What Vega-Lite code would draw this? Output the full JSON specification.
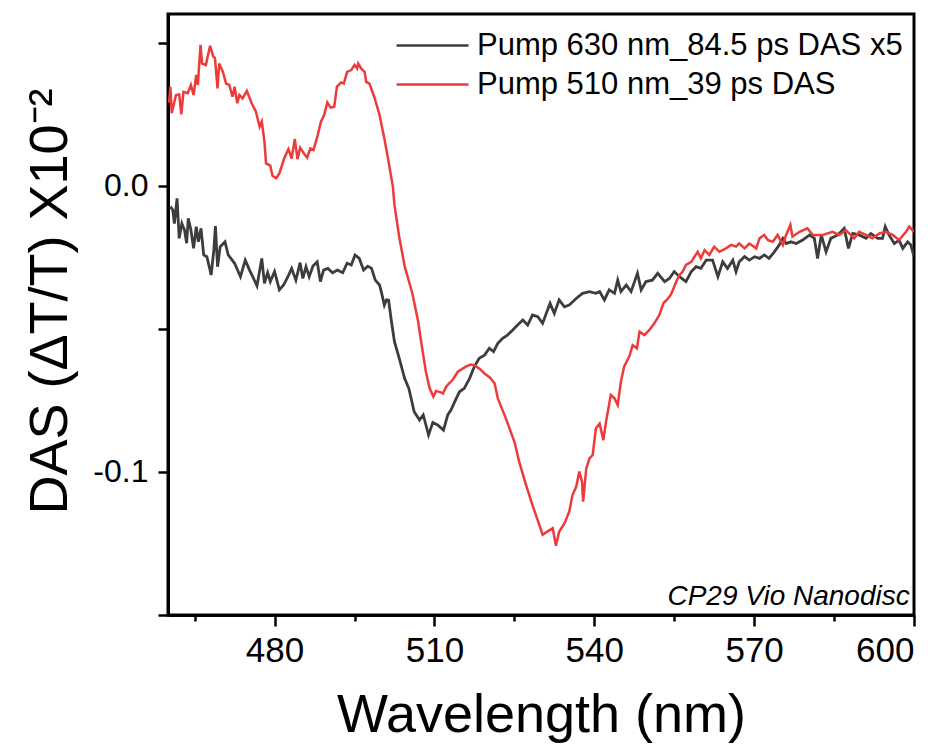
{
  "$schema": "https://vega.github.io/schema/vega-lite/v6.json",
  "width": 746,
  "height": 601,
  "autosize": {"type": "none"},
  "padding": {"left": 168, "top": 14, "right": 37, "bottom": 132},
  "background": "white",
  "config": {
    "view": {"stroke": "black", "strokeWidth": 3},
    "font": "Liberation Sans"
  },
  "datasets": {
    "black": [
{"w":460.45,"v":-0.0073},{"w":460.9,"v":-0.0085},{"w":461.2,"v":-0.0132},{"w":461.7,"v":-0.0044},{"w":462.1,"v":-0.0184},{"w":462.6,"v":-0.0132},{"w":463.1,"v":-0.0155},{"w":463.5,"v":-0.0201},{"w":463.8,"v":-0.0114},{"w":464.3,"v":-0.0155},{"w":464.8,"v":-0.0219},{"w":465.3,"v":-0.0143},{"w":465.7,"v":-0.0196},{"w":466.2,"v":-0.0149},{"w":466.7,"v":-0.0242},{"w":467.3,"v":-0.0248},{"w":468.1,"v":-0.0312},{"w":468.6,"v":-0.0225},{"w":468.9,"v":-0.0141},{"w":469.3,"v":-0.0283},{"w":469.8,"v":-0.0213},{"w":470.7,"v":-0.0196},{"w":471.3,"v":-0.0242},{"w":472.5,"v":-0.0271},{"w":473.6,"v":-0.0318},{"w":474.5,"v":-0.026},{"w":475.3,"v":-0.0295},{"w":475.9,"v":-0.0318},{"w":476.7,"v":-0.035},{"w":477.6,"v":-0.0254},{"w":478.1,"v":-0.0341},{"w":478.7,"v":-0.0304},{"w":479.2,"v":-0.0335},{"w":480.0,"v":-0.03},{"w":480.9,"v":-0.0364},{"w":481.7,"v":-0.0347},{"w":482.5,"v":-0.0318},{"w":483.2,"v":-0.0289},{"w":484.0,"v":-0.033},{"w":484.8,"v":-0.0269},{"w":485.3,"v":-0.0324},{"w":485.9,"v":-0.0283},{"w":486.5,"v":-0.0318},{"w":487.2,"v":-0.0281},{"w":488.0,"v":-0.0266},{"w":488.6,"v":-0.0335},{"w":489.2,"v":-0.0295},{"w":490.0,"v":-0.0289},{"w":490.9,"v":-0.0304},{"w":491.8,"v":-0.0295},{"w":492.8,"v":-0.0304},{"w":493.6,"v":-0.0271},{"w":494.4,"v":-0.0277},{"w":495.1,"v":-0.0242},{"w":495.9,"v":-0.0254},{"w":496.7,"v":-0.0295},{"w":497.5,"v":-0.0281},{"w":498.2,"v":-0.0289},{"w":498.9,"v":-0.033},{"w":499.7,"v":-0.0347},{"w":500.1,"v":-0.0376},{"w":500.6,"v":-0.0417},{"w":501.0,"v":-0.0399},{"w":501.4,"v":-0.040},{"w":501.9,"v":-0.047},{"w":502.5,"v":-0.0545},{"w":503.4,"v":-0.0603},{"w":504.4,"v":-0.0673},{"w":505.2,"v":-0.0708},{"w":506.2,"v":-0.079},{"w":507.2,"v":-0.0819},{"w":507.9,"v":-0.0801},{"w":508.9,"v":-0.0871},{"w":509.7,"v":-0.0827},{"w":510.6,"v":-0.0836},{"w":511.7,"v":-0.0854},{"w":512.5,"v":-0.0801},{"w":513.1,"v":-0.0784},{"w":514.1,"v":-0.0743},{"w":514.7,"v":-0.072},{"w":515.6,"v":-0.0708},{"w":516.6,"v":-0.0673},{"w":517.5,"v":-0.0632},{"w":518.4,"v":-0.0603},{"w":519.4,"v":-0.0592},{"w":520.3,"v":-0.0568},{"w":521.1,"v":-0.058},{"w":521.9,"v":-0.0551},{"w":522.8,"v":-0.0533},{"w":523.7,"v":-0.0522},{"w":524.7,"v":-0.0504},{"w":525.6,"v":-0.0487},{"w":526.6,"v":-0.0469},{"w":527.5,"v":-0.0487},{"w":528.4,"v":-0.0452},{"w":529.4,"v":-0.0458},{"w":530.3,"v":-0.0481},{"w":531.0,"v":-0.0446},{"w":531.7,"v":-0.0411},{"w":532.5,"v":-0.0446},{"w":533.4,"v":-0.0399},{"w":534.4,"v":-0.0423},{"w":535.3,"v":-0.0417},{"w":536.6,"v":-0.0394},{"w":537.8,"v":-0.0376},{"w":539.1,"v":-0.037},{"w":540.3,"v":-0.0376},{"w":541.0,"v":-0.037},{"w":541.9,"v":-0.0399},{"w":542.8,"v":-0.0364},{"w":543.8,"v":-0.0376},{"w":544.4,"v":-0.033},{"w":545.0,"v":-0.037},{"w":546.0,"v":-0.0347},{"w":546.9,"v":-0.037},{"w":548.1,"v":-0.0306},{"w":548.8,"v":-0.0364},{"w":549.7,"v":-0.0335},{"w":550.9,"v":-0.033},{"w":551.9,"v":-0.0306},{"w":553.2,"v":-0.0335},{"w":554.1,"v":-0.0324},{"w":555.0,"v":-0.03},{"w":556.0,"v":-0.0318},{"w":557.2,"v":-0.0335},{"w":558.2,"v":-0.03},{"w":559.1,"v":-0.0283},{"w":560.0,"v":-0.0289},{"w":561.0,"v":-0.026},{"w":562.2,"v":-0.026},{"w":563.2,"v":-0.0318},{"w":564.1,"v":-0.0266},{"w":565.0,"v":-0.0289},{"w":566.0,"v":-0.026},{"w":566.6,"v":-0.03},{"w":567.2,"v":-0.0266},{"w":568.2,"v":-0.0248},{"w":569.1,"v":-0.026},{"w":570.1,"v":-0.0248},{"w":571.0,"v":-0.0254},{"w":571.9,"v":-0.0242},{"w":572.8,"v":-0.0254},{"w":573.8,"v":-0.0231},{"w":574.7,"v":-0.0207},{"w":575.4,"v":-0.0184},{"w":576.0,"v":-0.0202},{"w":576.9,"v":-0.0196},{"w":577.9,"v":-0.0202},{"w":579.1,"v":-0.019},{"w":580.4,"v":-0.0172},{"w":581.3,"v":-0.0184},{"w":581.9,"v":-0.0254},{"w":582.6,"v":-0.0172},{"w":583.5,"v":-0.0231},{"w":584.4,"v":-0.0184},{"w":585.7,"v":-0.0172},{"w":586.9,"v":-0.0149},{"w":587.7,"v":-0.0219},{"w":588.5,"v":-0.0167},{"w":589.7,"v":-0.0172},{"w":591.0,"v":-0.0184},{"w":591.9,"v":-0.0167},{"w":593.2,"v":-0.0184},{"w":594.1,"v":-0.0184},{"w":594.6,"v":-0.0143},{"w":595.3,"v":-0.0172},{"w":596.3,"v":-0.0202},{"w":597.2,"v":-0.019},{"w":597.9,"v":-0.0219},{"w":598.8,"v":-0.0196},{"w":599.4,"v":-0.0207},{"w":600.0,"v":-0.0248}
    ],
    "red": [
{"w":460.2,"v":0.029},{"w":460.45,"v":0.0346},{"w":460.7,"v":0.0253},{"w":461.5,"v":0.0317},{"w":462.1,"v":0.0319},{"w":462.5,"v":0.0249},{"w":462.9,"v":0.0328},{"w":463.7,"v":0.0323},{"w":464.3,"v":0.0352},{"w":464.8,"v":0.0317},{"w":465.3,"v":0.0387},{"w":465.6,"v":0.0352},{"w":466.1,"v":0.0492},{"w":466.4,"v":0.0427},{"w":467.1,"v":0.0422},{"w":467.9,"v":0.0489},{"w":468.5,"v":0.0451},{"w":468.8,"v":0.0447},{"w":469.3,"v":0.034},{"w":469.6,"v":0.0427},{"w":470.3,"v":0.0398},{"w":470.9,"v":0.0357},{"w":471.5,"v":0.0352},{"w":472.1,"v":0.0311},{"w":472.5,"v":0.0346},{"w":473.0,"v":0.0288},{"w":473.4,"v":0.0317},{"w":474.0,"v":0.0305},{"w":474.8,"v":0.0331},{"w":475.7,"v":0.0288},{"w":476.5,"v":0.0259},{"w":477.2,"v":0.0206},{"w":477.6,"v":0.0224},{"w":478.1,"v":0.0154},{"w":478.4,"v":0.0078},{"w":479.2,"v":0.007},{"w":479.6,"v":0.0035},{"w":480.3,"v":0.0026},{"w":480.9,"v":0.0043},{"w":481.8,"v":0.0095},{"w":482.6,"v":0.0128},{"w":483.2,"v":0.0095},{"w":483.8,"v":0.0163},{"w":484.3,"v":0.0093},{"w":484.8,"v":0.0133},{"w":485.5,"v":0.0113},{"w":486.1,"v":0.0098},{"w":486.7,"v":0.013},{"w":487.3,"v":0.0125},{"w":488.1,"v":0.0177},{"w":488.7,"v":0.0224},{"w":489.3,"v":0.0247},{"w":489.9,"v":0.0291},{"w":490.5,"v":0.0273},{"w":491.2,"v":0.0276},{"w":491.7,"v":0.0346},{"w":492.5,"v":0.0361},{"w":493.0,"v":0.0357},{"w":493.6,"v":0.0398},{"w":494.4,"v":0.0404},{"w":495.0,"v":0.0422},{"w":495.5,"v":0.041},{"w":495.7,"v":0.0427},{"w":496.3,"v":0.0408},{"w":496.9,"v":0.0398},{"w":497.2,"v":0.0363},{"w":497.8,"v":0.0357},{"w":498.7,"v":0.0311},{"w":499.7,"v":0.0247},{"w":500.6,"v":0.0165},{"w":501.4,"v":0.0084},{"w":502.2,"v":-0.0003},{"w":502.5,"v":-0.0067},{"w":503.4,"v":-0.018},{"w":504.4,"v":-0.028},{"w":505.3,"v":-0.034},{"w":505.9,"v":-0.038},{"w":506.9,"v":-0.047},{"w":507.8,"v":-0.058},{"w":508.4,"v":-0.065},{"w":509.1,"v":-0.0708},{"w":509.8,"v":-0.0737},{"w":510.3,"v":-0.0717},{"w":511.2,"v":-0.0722},{"w":511.6,"v":-0.0726},{"w":512.2,"v":-0.0702},{"w":512.8,"v":-0.069},{"w":513.4,"v":-0.0679},{"w":514.4,"v":-0.065},{"w":515.9,"v":-0.0632},{"w":516.8,"v":-0.0625},{"w":517.5,"v":-0.0627},{"w":518.5,"v":-0.064},{"w":519.4,"v":-0.0656},{"w":520.4,"v":-0.067},{"w":521.3,"v":-0.0691},{"w":521.9,"v":-0.0743},{"w":523.4,"v":-0.0813},{"w":525.0,"v":-0.0894},{"w":525.9,"v":-0.0964},{"w":527.2,"v":-0.1046},{"w":528.4,"v":-0.1116},{"w":529.7,"v":-0.1186},{"w":530.3,"v":-0.122},{"w":531.3,"v":-0.1207},{"w":532.2,"v":-0.1197},{"w":532.8,"v":-0.1258},{"w":533.4,"v":-0.1209},{"w":534.4,"v":-0.118},{"w":535.3,"v":-0.1139},{"w":535.9,"v":-0.1081},{"w":536.6,"v":-0.1052},{"w":537.2,"v":-0.0999},{"w":537.7,"v":-0.1034},{"w":537.9,"v":-0.1104},{"w":538.5,"v":-0.0988},{"w":539.1,"v":-0.0953},{"w":539.7,"v":-0.0941},{"w":540.3,"v":-0.0848},{"w":541.0,"v":-0.0831},{"w":541.7,"v":-0.0889},{"w":542.2,"v":-0.0825},{"w":543.1,"v":-0.0731},{"w":543.8,"v":-0.0743},{"w":544.4,"v":-0.0766},{"w":545.0,"v":-0.0685},{"w":545.6,"v":-0.0632},{"w":546.6,"v":-0.0595},{"w":547.2,"v":-0.0557},{"w":548.0,"v":-0.0568},{"w":548.5,"v":-0.051},{"w":549.4,"v":-0.0522},{"w":550.3,"v":-0.0505},{"w":551.3,"v":-0.048},{"w":552.2,"v":-0.0452},{"w":553.0,"v":-0.041},{"w":553.8,"v":-0.0395},{"w":554.4,"v":-0.038},{"w":555.0,"v":-0.0353},{"w":555.5,"v":-0.033},{"w":556.0,"v":-0.0312},{"w":556.6,"v":-0.03},{"w":557.2,"v":-0.0277},{"w":558.2,"v":-0.0266},{"w":559.4,"v":-0.0231},{"w":560.0,"v":-0.0254},{"w":560.7,"v":-0.0225},{"w":561.6,"v":-0.0242},{"w":562.5,"v":-0.0213},{"w":563.5,"v":-0.0231},{"w":564.7,"v":-0.0219},{"w":565.7,"v":-0.0207},{"w":566.6,"v":-0.0213},{"w":567.2,"v":-0.0202},{"w":568.2,"v":-0.0219},{"w":569.1,"v":-0.0202},{"w":570.4,"v":-0.0219},{"w":571.0,"v":-0.0184},{"w":571.9,"v":-0.0172},{"w":572.6,"v":-0.019},{"w":573.5,"v":-0.0196},{"w":574.4,"v":-0.0172},{"w":575.4,"v":-0.0207},{"w":576.0,"v":-0.0172},{"w":576.8,"v":-0.0137},{"w":577.2,"v":-0.0178},{"w":578.5,"v":-0.0161},{"w":580.0,"v":-0.0149},{"w":581.0,"v":-0.0172},{"w":582.9,"v":-0.0172},{"w":584.7,"v":-0.0161},{"w":586.0,"v":-0.0172},{"w":587.2,"v":-0.0155},{"w":588.8,"v":-0.0184},{"w":589.7,"v":-0.0161},{"w":591.0,"v":-0.0172},{"w":592.2,"v":-0.0184},{"w":593.5,"v":-0.0167},{"w":594.7,"v":-0.0161},{"w":596.0,"v":-0.0172},{"w":597.2,"v":-0.019},{"w":598.5,"v":-0.0161},{"w":599.1,"v":-0.0143},{"w":600.0,"v":-0.0161}
    ],
    "note": [{"label": "CP29 Vio Nanodisc", "w": 599.2, "v": -0.1464}]
  },
  "layer": [
    {
      "data": {"name": "black"},
      "mark": {"type": "line", "strokeWidth": 2.8, "clip": true},
      "encoding": {
        "x": {
          "field": "w", "type": "quantitative",
          "scale": {"domain": [460, 600], "nice": false, "zero": false},
          "axis": {
            "values": [465, 480, 495, 510, 525, 540, 555, 570, 585, 600],
            "labelExpr": "datum.value % 30 == 0 ? datum.label : ''",
            "labelOverlap": false,
            "labelFontSize": 35,
            "labelColor": "black",
            "labelPadding": 7,
            "tickSize": {"condition": {"test": "datum.value % 30 != 0", "value": 6}, "value": 11},
            "tickWidth": 2.5,
            "tickColor": "black",
            "domainColor": "black",
            "domainWidth": 3,
            "grid": false,
            "title": "Wavelength (nm)",
            "titleFontSize": 54,
            "titleFontWeight": "normal",
            "titleColor": "black",
            "titleX": 373,
            "titleY": 116,
            "titleAlign": "center",
            "titleBaseline": "alphabetic"
          }
        },
        "y": {
          "field": "v", "type": "quantitative",
          "scale": {"domain": [-0.15, 0.06], "nice": false, "zero": false},
          "axis": {
            "values": [0.05, 0, -0.05, -0.1, -0.15],
            "labelExpr": "abs(datum.value) < 1e-9 ? '0.0' : (abs(datum.value + 0.1) < 1e-9 ? '-0.1' : '')",
            "labelOverlap": false,
            "labelFontSize": 32,
            "labelColor": "black",
            "labelPadding": 10,
            "tickSize": 10,
            "tickWidth": 2.5,
            "tickColor": "black",
            "domainColor": "black",
            "domainWidth": 3,
            "grid": false,
            "title": "DAS (ΔT/T) X10⁻²",
            "titleFontSize": 54,
            "titleFontWeight": "normal",
            "titleColor": "black",
            "titleAngle": -90,
            "titleX": -118,
            "titleY": 287,
            "titleAlign": "center",
            "titleBaseline": "middle"
          }
        },
        "color": {
          "datum": "Pump 630 nm_84.5 ps DAS x5",
          "type": "nominal",
          "scale": {
            "domain": ["Pump 630 nm_84.5 ps DAS x5", "Pump 510 nm_39 ps DAS"],
            "range": ["#3d3d3d", "#ef3a3a"]
          },
          "legend": {
            "title": null,
            "orient": "none",
            "legendX": 249,
            "legendY": 16,
            "padding": 0,
            "symbolType": "M-4.5,0H4.5",
            "symbolSize": 256,
            "symbolStrokeWidth": 2.5,
            "labelFontSize": 31,
            "labelColor": "black",
            "labelOffset": 29,
            "labelLimit": 1000,
            "rowPadding": 7
          }
        }
      }
    },
    {
      "data": {"name": "red"},
      "mark": {"type": "line", "strokeWidth": 2.5, "clip": true},
      "encoding": {
        "x": {"field": "w", "type": "quantitative"},
        "y": {"field": "v", "type": "quantitative"},
        "color": {"datum": "Pump 510 nm_39 ps DAS", "type": "nominal"}
      }
    },
    {
      "mark": {"type": "rule", "color": "black", "strokeWidth": 2.5},
      "encoding": {"y": {"datum": 0, "type": "quantitative"}}
    },
    {
      "data": {"name": "note"},
      "mark": {"type": "text", "font": "Liberation Sans", "fontStyle": "italic", "fontSize": 28, "align": "right", "baseline": "alphabetic", "color": "black"},
      "encoding": {
        "x": {"field": "w", "type": "quantitative"},
        "y": {"field": "v", "type": "quantitative"},
        "text": {"field": "label"}
      }
    }
  ]
}
